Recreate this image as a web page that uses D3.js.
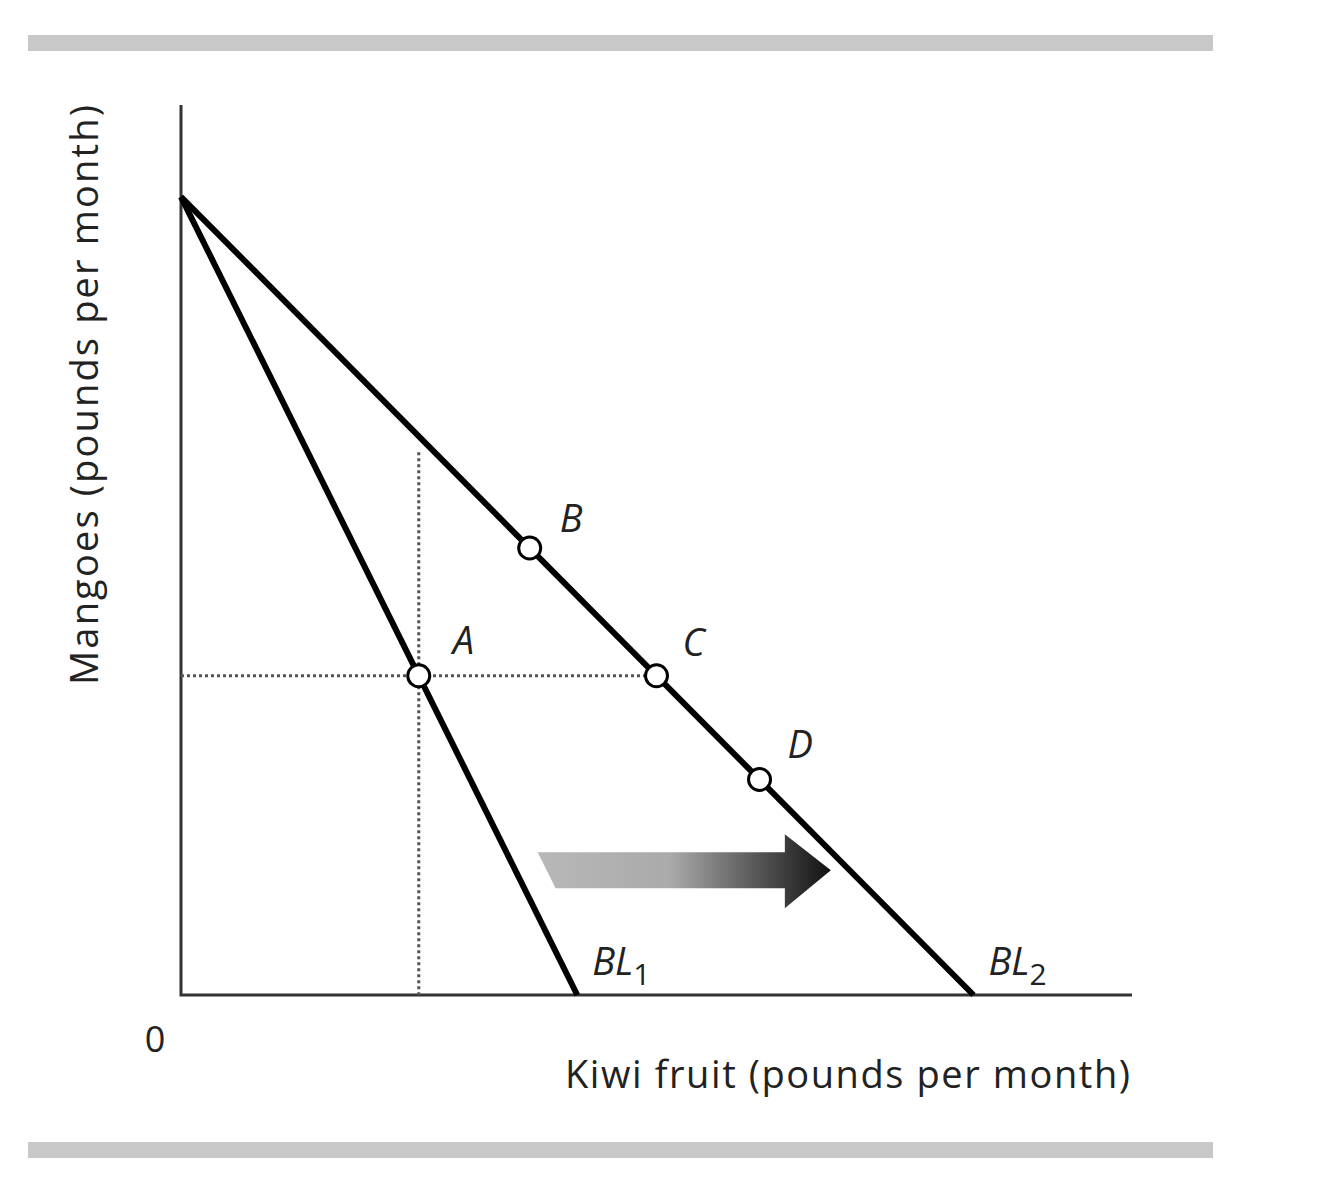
<!DOCTYPE html>
<html><head><meta charset="utf-8">
<script src="https://cdn.jsdelivr.net/npm/d3@7"></script>
<style>body{margin:0;background:#fff}text{font-family:"Open Sans",sans-serif;fill:#222}</style>
</head><body>
<script>
// budget lines: [x-intercept, y-intercept]
const budgetLines = [
  {name: "BL", sub: "1", x0: 5, y0: 10},
  {name: "BL", sub: "2", x0: 10, y0: 10}
];
const points = [
  {label: "A", x: 3, y: 4, dx: 34, dy: -22},
  {label: "B", x: 4.4, y: 5.6, dx: 30, dy: -16},
  {label: "C", x: 6, y: 4, dx: 26, dy: -20},
  {label: "D", x: 7.3, y: 2.7, dx: 28, dy: -21}
];
const guideA = {x: 3, y: 4, top: 6.8};
const shiftArrow = {x1: 4.5, x2: 8.2, y: 1.5};

var svg = d3.select("body").append("svg").attr("width", 1321).attr("height", 1200);
var x = d3.scaleLinear().domain([0, 12]).range([181, 1132]);
var y = d3.scaleLinear().domain([0, 11.15]).range([995, 105]);

// gray rules
[43, 1150].forEach(function (yy) {
  svg.append("rect").attr("x", 28).attr("y", yy - 8).attr("width", 1185).attr("height", 16).attr("fill", "#c8c8c8");
});

// axes
svg.append("path").attr("d", `M${x(0)},${y(11.15)}V${y(0)}H${x(12)}`)
  .attr("fill", "none").attr("stroke", "#333").attr("stroke-width", 3);

// dotted guides
svg.append("line").attr("x1", x(0)).attr("x2", x(6)).attr("y1", y(guideA.y)).attr("y2", y(guideA.y))
  .attr("stroke", "#555").attr("stroke-width", 3).attr("stroke-dasharray", "3,3");
svg.append("line").attr("x1", x(guideA.x)).attr("x2", x(guideA.x)).attr("y1", y(guideA.top)).attr("y2", y(0))
  .attr("stroke", "#555").attr("stroke-width", 3).attr("stroke-dasharray", "3,3");

// gradient arrow
var grad = svg.append("defs").append("linearGradient").attr("id", "g");
grad.append("stop").attr("offset", "0%").attr("stop-color", "#b8b8b8");
grad.append("stop").attr("offset", "45%").attr("stop-color", "#aaa");
grad.append("stop").attr("offset", "100%").attr("stop-color", "#111");
var ax1 = x(shiftArrow.x1), ax2 = x(shiftArrow.x2), ay = y(shiftArrow.y) - 5;
svg.append("path")
  .attr("d", `M${ax1},${ay - 18}L${ax2 - 46},${ay - 18}L${ax2 - 46},${ay - 36}L${ax2},${ay}L${ax2 - 46},${ay + 38}L${ax2 - 46},${ay + 18}L${ax1 + 18},${ay + 18}Z`)
  .attr("fill", "url(#g)");

// budget lines
svg.selectAll(".bl").data(budgetLines).enter().append("line")
  .attr("x1", x(0)).attr("y1", d => y(d.y0)).attr("x2", d => x(d.x0)).attr("y2", y(0))
  .attr("stroke", "#000").attr("stroke-width", 6);
svg.selectAll(".bll").data(budgetLines).enter().append("text")
  .attr("x", d => x(d.x0) + 15).attr("y", y(0) - 20)
  .attr("font-size", 38).attr("font-style", "italic")
  .text(d => d.name)
  .append("tspan").attr("font-style", "normal").attr("font-size", 30).attr("dy", 10).text(d => d.sub);

// points
svg.selectAll(".pt").data(points).enter().append("circle")
  .attr("cx", d => x(d.x)).attr("cy", d => y(d.y)).attr("r", 11)
  .attr("fill", "#fff").attr("stroke", "#000").attr("stroke-width", 3);
svg.selectAll(".ptl").data(points).enter().append("text")
  .attr("x", d => x(d.x) + d.dx).attr("y", d => y(d.y) + d.dy)
  .attr("font-size", 38).attr("font-style", "italic").attr("text-anchor", "start")
  .text(d => d.label);

// axis labels
svg.append("text").attr("x", 155).attr("y", 1052).attr("font-size", 36).attr("text-anchor", "middle").text("0");
svg.append("text").attr("x", 1130).attr("y", 1088).attr("font-size", 38).attr("text-anchor", "end")
  .attr("textLength", 565).text("Kiwi fruit (pounds per month)");
svg.append("text").attr("transform", "translate(98,395) rotate(-90)").attr("font-size", 38)
  .attr("text-anchor", "middle").attr("textLength", 580).text("Mangoes (pounds per month)");
</script>
</body></html>
